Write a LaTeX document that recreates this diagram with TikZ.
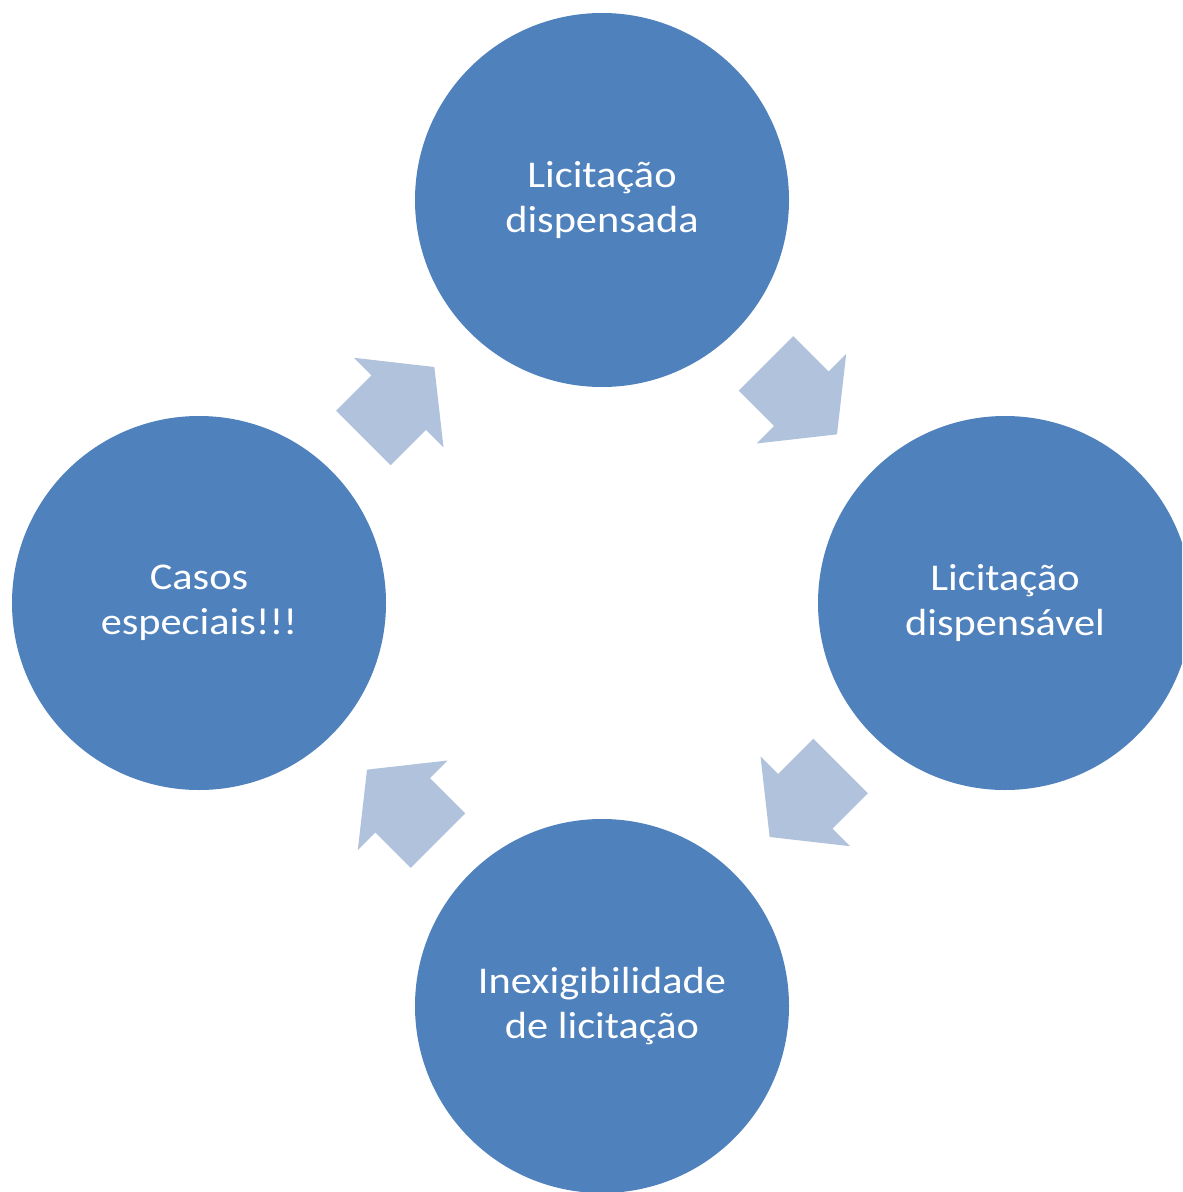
\documentclass[tikz,border=0pt]{standalone}
\usepackage{fontspec}
\setmainfont{Carlito}[FakeStretch=1.12]
\definecolor{circblue}{HTML}{4F81BD}
\definecolor{arrowblue}{HTML}{B1C2DD}
\tikzset{
  circ/.style={circle, fill=circblue, draw=none, minimum size=187pt, inner sep=0pt,
    text=white, align=center, font=\fontsize{18.9pt}{22.5pt}\selectfont},
  cyclearrow/.style={fill=arrowblue, draw=none}
}
\begin{document}
\begin{tikzpicture}[x=0.5pt, y=-0.5pt]
  \useasboundingbox (0,0) rectangle (1182,1192);
  \clip (0,0) rectangle (1182,1192);
  \fill[white] (0,0) rectangle (1182,1192);
  \node[circ] (top) at (602,200) {Licitação\\dispensada};
  \node[circ] (right) at (1005,603) {Licitação\\dispensável};
  \node[circ] (bottom) at (602,1006) {Inexigibilidade\\de licitação};
  \node[circ] (left) at (199,603) {Casos\\especiais!!!};
  \foreach \ang in {0,90,180,270}{
    \fill[cyclearrow, rotate around={\ang:(602,602)}]
      (793.2,336.1) -- (828.6,371.5) -- (846.2,353.9) -- (837,434.35)
      -- (756.5,443.5) -- (774.1,425.9) -- (738.8,390.6) -- cycle;
  }
\end{tikzpicture}
\end{document}
